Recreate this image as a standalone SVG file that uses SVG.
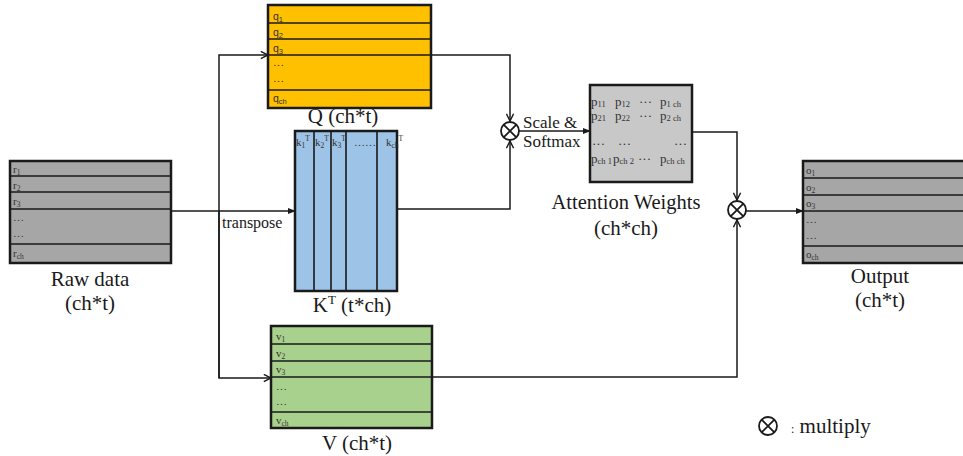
<svg xmlns="http://www.w3.org/2000/svg" width="963" height="456" viewBox="0 0 963 456">
<style>
.box{stroke:#1a1a1a;stroke-width:2.5}
.row{stroke:#1a1a1a;stroke-width:1.6;fill:none}
.con{stroke:#1a1a1a;stroke-width:1.5;fill:none}
text{font-family:"Liberation Serif","DejaVu Serif","Times New Roman",serif;fill:#1a1a1a}
.lbl{font-size:21px}
.sm{font-size:11px;fill:#333}
.qs{font-family:"Liberation Sans","DejaVu Sans",sans-serif;font-size:10.5px;fill:#333}
.pm{font-size:13px;fill:#333}
.mid{text-anchor:middle}
.sub{font-size:7.5px}
.psub{font-size:8.5px}
</style>
<defs>
<marker id="chev" viewBox="0 0 10 10" refX="9" refY="5" markerWidth="9" markerHeight="9" markerUnits="userSpaceOnUse" orient="auto">
<path d="M1,1 L9,5 L1,9" fill="none" stroke="#1a1a1a" stroke-width="1.6"/>
</marker>
<marker id="tri" viewBox="0 0 10 10" refX="9" refY="5" markerWidth="8" markerHeight="8" markerUnits="userSpaceOnUse" orient="auto">
<path d="M0,1 L10,5 L0,9 Z" fill="#1a1a1a"/>
</marker>
<g id="otimes">
<circle cx="0" cy="0" r="9" fill="#fff" stroke="#1a1a1a" stroke-width="1.8"/>
<path d="M-6.4,-6.4 L6.4,6.4 M-6.4,6.4 L6.4,-6.4" stroke="#1a1a1a" stroke-width="1.8"/>
</g>
</defs>

<g id="connectors">
<path class="con" d="M171,211 H295" marker-end="url(#tri)"/>
<path class="con" d="M219,378 V55 H268" marker-end="url(#chev)"/>
<path class="con" d="M219,211 V378 H271" marker-end="url(#chev)"/>
<path class="con" d="M431,55 H510 V121" marker-end="url(#chev)"/>
<path class="con" d="M397,209 H510 V141" marker-end="url(#chev)"/>
<path class="con" d="M519,131 H590" marker-end="url(#tri)"/>
<path class="con" d="M692,132 H737 V200" marker-end="url(#chev)"/>
<path class="con" d="M432,377 H737 V220" marker-end="url(#chev)"/>
<path class="con" d="M746,211 H803" marker-end="url(#tri)"/>
<text x="222" y="228" font-size="16">transpose</text>
<text x="523" y="128" font-size="17">Scale &amp;</text>
<text x="523" y="147" font-size="17">Softmax</text>
</g>

<g id="raw">
<rect class="box" x="10" y="161" width="161" height="102" fill="#a6a6a6"/>
<path class="row" d="M10,176 H171 M10,192 H171 M10,209 H171 M10,244 H171"/>
<text class="sm" x="13" y="173">r<tspan class="sub" dy="2">1</tspan></text>
<text class="sm" x="13" y="189">r<tspan class="sub" dy="2">2</tspan></text>
<text class="sm" x="13" y="205">r<tspan class="sub" dy="2">3</tspan></text>
<text class="sm" x="13" y="221">…</text>
<text class="sm" x="13" y="237">…</text>
<text class="sm" x="13" y="257">r<tspan class="sub" dy="2">ch</tspan></text>
<text class="lbl mid" x="90" y="286">Raw data</text>
<text class="lbl mid" x="90" y="310">(ch*t)</text>
</g>

<g id="Q">
<rect class="box" x="268" y="5" width="163" height="103" fill="#ffc000"/>
<path class="row" d="M268,23 H431 M268,39 H431 M268,55 H431 M268,90 H431"/>
<text class="qs" x="273" y="20">q<tspan class="sub" dy="2">1</tspan></text>
<text class="qs" x="273" y="36">q<tspan class="sub" dy="2">2</tspan></text>
<text class="qs" x="273" y="52">q<tspan class="sub" dy="2">3</tspan></text>
<text class="sm" x="273" y="66">…</text>
<text class="sm" x="273" y="82">…</text>
<text class="qs" x="273" y="102">q<tspan class="sub" dy="2">ch</tspan></text>
<text class="lbl mid" x="343" y="123">Q (ch*t)</text>
</g>

<g id="K">
<rect class="box" x="295" y="131" width="102" height="160" fill="#9dc3e6"/>
<path class="row" d="M314,131 V291 M331,131 V291 M346,131 V291 M377,131 V291"/>
<text class="sm" x="296" y="146">k<tspan class="sub" dy="2">1</tspan><tspan class="sub" dy="-7">T</tspan></text>
<text class="sm" x="315" y="146">k<tspan class="sub" dy="2">2</tspan><tspan class="sub" dy="-7">T</tspan></text>
<text class="sm" x="332" y="146">k<tspan class="sub" dy="2">3</tspan><tspan class="sub" dy="-7">T</tspan></text>
<text class="sm" x="354" y="146">……</text>
<text class="sm" x="386" y="146">k<tspan class="sub" dy="2">ch</tspan><tspan class="sub" dy="-7">T</tspan></text>
<text class="lbl mid" x="352" y="312">K<tspan font-size="13" dy="-8">T</tspan><tspan dy="8"> (t*ch)</tspan></text>
</g>

<g id="V">
<rect class="box" x="271" y="326" width="161" height="102" fill="#a9d18e"/>
<path class="row" d="M271,344 H432 M271,361 H432 M271,377 H432 M271,412 H432"/>
<text class="sm" x="276" y="340">v<tspan class="sub" dy="2">1</tspan></text>
<text class="sm" x="276" y="357">v<tspan class="sub" dy="2">2</tspan></text>
<text class="sm" x="276" y="373">v<tspan class="sub" dy="2">3</tspan></text>
<text class="sm" x="276" y="390">…</text>
<text class="sm" x="276" y="405">…</text>
<text class="sm" x="276" y="424">v<tspan class="sub" dy="2">ch</tspan></text>
<text class="lbl mid" x="357" y="450">V (ch*t)</text>
</g>

<g id="mul1"><use href="#otimes" x="510" y="131"/></g>

<g id="attention">
<rect class="box" x="590" y="85" width="102" height="97" fill="#c8c8c8"/>
<text class="pm" x="591" y="106">p<tspan class="psub" dy="1">11</tspan></text>
<text class="pm" x="615" y="106">p<tspan class="psub" dy="1">12</tspan></text>
<text class="pm" x="639" y="106">···</text>
<text class="pm" x="660" y="106">p<tspan class="psub" dy="1">1 ch</tspan></text>
<text class="pm" x="591" y="120">p<tspan class="psub" dy="1">21</tspan></text>
<text class="pm" x="615" y="120">p<tspan class="psub" dy="1">22</tspan></text>
<text class="pm" x="639" y="120">···</text>
<text class="pm" x="660" y="120">p<tspan class="psub" dy="1">2 ch</tspan></text>
<text class="pm" x="592" y="148">···</text>
<text class="pm" x="618" y="148">···</text>
<text class="pm" x="674" y="148">···</text>
<text class="pm" x="591" y="163">p<tspan class="psub" dy="1">ch 1</tspan></text>
<text class="pm" x="613" y="163">p<tspan class="psub" dy="1">ch 2</tspan></text>
<text class="pm" x="638" y="163">···</text>
<text class="pm" x="660" y="163">p<tspan class="psub" dy="1">ch ch</tspan></text>
<text class="mid" x="626" y="209" font-size="20.5">Attention Weights</text>
<text class="lbl mid" x="626" y="235">(ch*ch)</text>
</g>

<g id="mul2"><use href="#otimes" x="737" y="210"/></g>

<g id="output">
<rect class="box" x="803" y="161" width="165" height="102" fill="#a6a6a6"/>
<path class="row" d="M803,178 H968 M803,195 H968 M803,211 H968 M803,246 H968"/>
<text class="sm" x="806" y="174">o<tspan class="sub" dy="2">1</tspan></text>
<text class="sm" x="806" y="191">o<tspan class="sub" dy="2">2</tspan></text>
<text class="sm" x="806" y="207">o<tspan class="sub" dy="2">3</tspan></text>
<text class="sm" x="806" y="223">…</text>
<text class="sm" x="806" y="239">…</text>
<text class="sm" x="806" y="258">o<tspan class="sub" dy="2">ch</tspan></text>
<text class="lbl mid" x="880" y="283">Output</text>
<text class="lbl mid" x="880" y="307">(ch*t)</text>
</g>

<g id="legend">
<use href="#otimes" x="768" y="426"/>
<text x="791" y="433" font-size="21"><tspan font-size="12">:</tspan> multiply</text>
</g>
</svg>
